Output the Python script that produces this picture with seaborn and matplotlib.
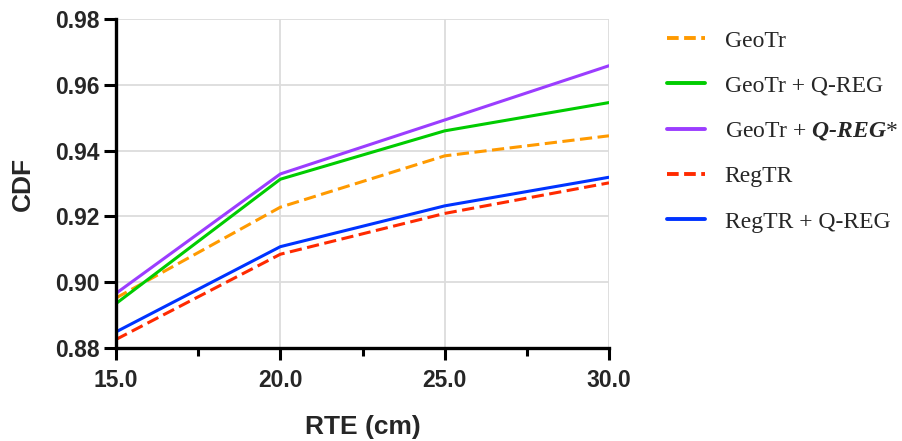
import numpy as np
import pandas as pd
import matplotlib
matplotlib.use("Agg")
import matplotlib.pyplot as plt
import seaborn as sns
from matplotlib.ticker import MultipleLocator, FormatStrFormatter

# RTE thresholds (cm) and CDF values per method
rte = [15.0, 20.0, 25.0, 30.0]
geotr = [0.8952, 0.9228, 0.9384, 0.9445]
geotr_qreg = [0.8935, 0.9313, 0.9460, 0.9546]
geotr_qreg_star = [0.8966, 0.9329, 0.9493, 0.9658]
regtr = [0.8826, 0.9085, 0.9209, 0.9302]
regtr_qreg = [0.8849, 0.9108, 0.9232, 0.9319]

methods = ["GeoTr", "GeoTr + Q-REG", "GeoTr + Q-REG*", "RegTR", "RegTR + Q-REG"]
series = [geotr, geotr_qreg, geotr_qreg_star, regtr, regtr_qreg]
colors = ["#FF9A00", "#00CC00", "#9B3DFF", "#FF2A00", "#0033FF"]
dashed = [True, False, False, True, False]

df = pd.DataFrame({
    "RTE": np.tile(rte, len(methods)),
    "CDF": np.concatenate(series),
    "method": np.repeat(methods, len(rte)),
})

sns.set_theme(style="white")
plt.rcParams["font.family"] = ["Liberation Sans", "DejaVu Sans"]
plt.rcParams["mathtext.fontset"] = "custom"
plt.rcParams["mathtext.rm"] = "Liberation Serif"
plt.rcParams["mathtext.bfit"] = "Liberation Serif:bold:italic"

fig = plt.figure(figsize=(9.03, 4.41), dpi=100)
ax = fig.add_axes([116 / 903, 1 - 348 / 441, (609 - 116) / 903, (348 - 19) / 441])

dash_map = {m: ((4, 1.8) if d else "") for m, d in zip(methods, dashed)}
sns.lineplot(data=df, x="RTE", y="CDF", hue="method", style="method",
             palette=dict(zip(methods, colors)), dashes=dash_map,
             linewidth=2.2, ax=ax, legend=False, zorder=3)

ax.set_xlim(15, 30)
ax.set_ylim(0.88, 0.98)
ax.xaxis.set_major_locator(MultipleLocator(5))
ax.xaxis.set_minor_locator(MultipleLocator(2.5))
ax.yaxis.set_major_locator(MultipleLocator(0.02))
ax.xaxis.set_major_formatter(FormatStrFormatter("%.1f"))
ax.yaxis.set_major_formatter(FormatStrFormatter("%.2f"))

ax.grid(True, which="major", color="#DCDCDC", linewidth=1.3, zorder=0)
for s in ["top", "right"]:
    ax.spines[s].set_visible(False)
for s in ["left", "bottom"]:
    ax.spines[s].set_linewidth(2.4)
    ax.spines[s].set_color("black")
    ax.spines[s].set_zorder(5)

ax.tick_params(axis="both", which="major", direction="out", length=8.5, width=2.2,
               color="black", labelsize=16.5, bottom=True, left=True)
ax.tick_params(axis="x", which="major", pad=6.5)
ax.tick_params(axis="y", which="major", pad=3.5)
ax.tick_params(axis="x", which="minor", direction="out", length=5.5, width=2.2,
               color="black", bottom=True)
for lab in ax.get_xticklabels() + ax.get_yticklabels():
    lab.set_fontweight("bold")

ax.set_xlabel("RTE (cm)", fontsize=19, fontweight="bold", labelpad=17)
ax.set_ylabel("CDF", fontsize=19, fontweight="bold", labelpad=14)

# legend built from the same styles used for the lines
handles = []
for m, c, d in zip(methods, colors, dashed):
    h, = ax.plot([], [], color=c, linewidth=2.8,
                 linestyle=(0, (3, 1.4)) if d else "-")
    handles.append(h)
labels = ["GeoTr", "GeoTr + Q-REG", "GeoTr + $\\mathbfit{Q‐REG}$*",
          "RegTR", "RegTR + Q-REG"]
leg = fig.legend(handles, labels, loc="upper left",
                 bbox_to_anchor=(667 / 903, 1 - 30 / 441),
                 frameon=False, handlelength=1.6, handletextpad=0.85,
                 labelspacing=1.0, borderpad=0, borderaxespad=0,
                 prop={"family": "Liberation Serif", "size": 17})

fig.savefig("out.png", dpi=100)
